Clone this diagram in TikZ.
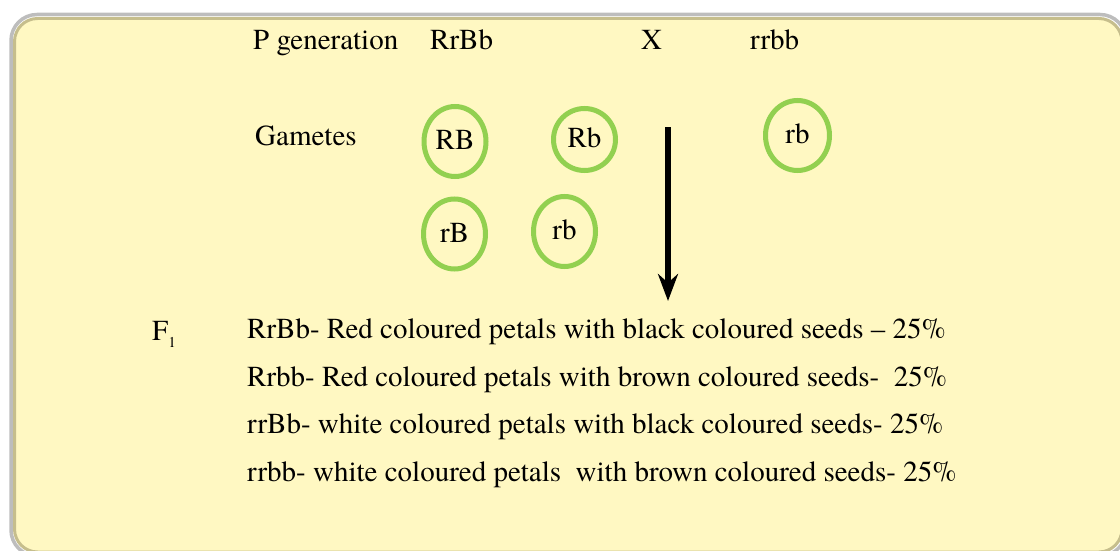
\documentclass[tikz,border=0pt]{standalone}
\usepackage{fontspec}
\setmainfont{TeX Gyre Termes}
\usepackage{xcolor}
\usepackage{tikz}
\usetikzlibrary{arrows.meta, shapes.geometric}

\definecolor{boxfill}{HTML}{FFF8C2}
\definecolor{boxgray}{HTML}{BDBDBD}
\definecolor{boxolive}{HTML}{C6BE8C}
\definecolor{ringgreen}{HTML}{92D050}

\begin{document}
\begin{tikzpicture}[
      x=1pt, y=-1pt,
      every node/.style={font=\fontsize{29}{29}\selectfont, inner sep=0pt},
      txt/.style={anchor=base west},
      gamete/.style={ellipse, draw=ringgreen, line width=5pt, minimum width=62pt,
        minimum height=70pt, text height=20pt, text depth=4pt}
    ]
      \useasboundingbox (0,0) rectangle (1120,551);
      \draw[boxgray, line width=3.5pt, rounded corners=26pt] (11,14.5) rectangle (1126,556);
      \draw[boxolive, fill=boxfill, line width=3pt, rounded corners=23pt] (14.5,18.5) rectangle (1122,552);

      \node[txt] (pgen) at (253,50) {P generation};
      \node[txt] (par1) at (430,50) {RrBb};
      \node[txt] (cross) at (641,50) {X};
      \node[txt] (par2) at (750,50) {rrbb};

      \node[txt] (gam) at (255,146) {Gametes};
      \node[gamete] (gRB) at (455,141.5) {RB};
      \node[gamete, minimum height=62pt] (gRb) at (584.5,139.5) {Rb};
      \node[gamete, minimum width=64pt] (grb) at (797.5,135.5) {rb};
      \node[gamete] (grB) at (454.5,234) {rB};
      \node[gamete] (grb2) at (564.5,231.5) {rb};

      \coordinate (arrtop) at (668,127);
      \coordinate (arrtip) at (668,301);
      \draw[line width=6pt, -{Stealth[length=27pt, width=20pt]}] (arrtop) -- (arrtip);

      \node[txt] (f1) at (152,340) {F\raisebox{-7pt}{\fontsize{15}{15}\selectfont 1}};
      \node[txt] (res1) at (247,338) {RrBb- Red coloured petals with black coloured seeds – 25\%};
      \node[txt] (res2) at (247,386) {Rrbb- Red coloured petals with brown coloured seeds-\ \ 25\%};
      \node[txt] (res3) at (247,433) {rrBb- white coloured petals with black coloured seeds- 25\%};
      \node[txt] (res4) at (247,481) {rrbb- white coloured petals\ \ with brown coloured seeds- 25\%};
    \end{tikzpicture}
\end{document}
